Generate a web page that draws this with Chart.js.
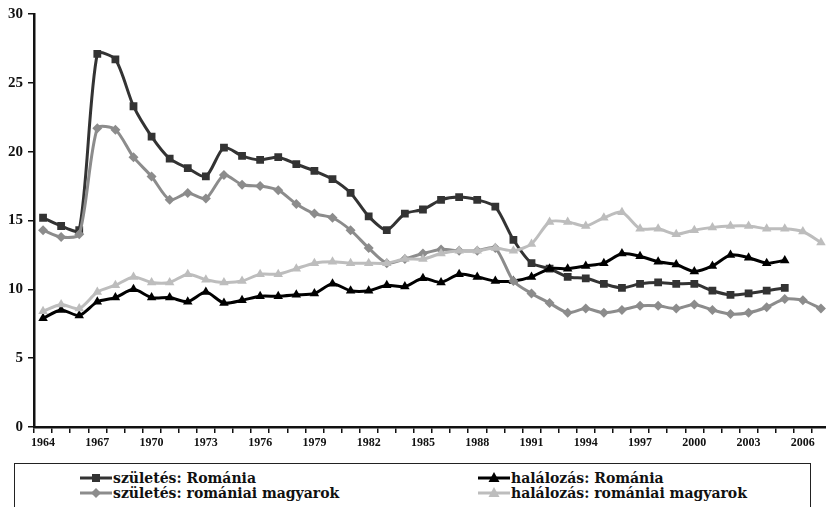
<!DOCTYPE html>
<html>
<head>
<meta charset="utf-8">
<script src="https://cdn.jsdelivr.net/npm/chart.js@4"></script>
<style>
  body { margin: 0; background: #fff; }
  #wrap { position: relative; width: 826px; height: 507px; overflow: hidden; }
  #chartBox { position: absolute; left: 0; top: 0; width: 830px; height: 462px; }
  #legend {
    position: absolute; left: 14px; top: 463px; width: 797px; height: 50px;
    border: 1.5px solid #222; box-sizing: border-box;
    font-family: "DejaVu Serif", serif; font-weight: bold; font-size: 14px; color: #111;
  }
  .item { position: absolute; height: 16px; line-height: 16px; white-space: nowrap; }
  .item svg { vertical-align: middle; margin-right: 1px; position: relative; top: -1px; }
</style>
</head>
<body>
<div id="wrap">
  <div id="chartBox"><canvas id="chart"></canvas></div>
  <div id="legend"></div>
</div>
<script>
// -------- data --------
const years = ['1964','1965','1966','1967','1968','1969','1970','1971','1972','1973',
    '1974','1975','1976','1977','1978','1979','1980','1981','1982','1983',
    '1984','1985','1986','1987','1988','1989','1990','1991','1992','1993',
    '1994','1995','1996','1997','1998','1999','2000','2001','2002','2003',
    '2004','2005','2006','2007'];

const birthRomania = [15.2,14.6,14.3,27.1,26.7,23.3,21.1,19.5,18.8,18.2,
    20.3,19.7,19.4,19.6,19.1,18.6,18.0,17.0,15.3,14.3,
    15.5,15.8,16.5,16.7,16.5,16.0,13.6,11.9,11.5,10.9,
    10.8,10.4,10.1,10.4,10.5,10.4,10.4,9.9,9.6,9.7,
    9.9,10.1,null,null];

const deathRomania = [7.9,8.5,8.1,9.1,9.4,10.0,9.4,9.4,9.1,9.8,
    9.0,9.2,9.5,9.5,9.6,9.7,10.4,9.9,9.9,10.3,
    10.2,10.8,10.5,11.1,10.9,10.6,10.6,10.9,11.5,11.5,
    11.7,11.9,12.6,12.4,12.0,11.8,11.3,11.7,12.5,12.3,
    11.9,12.1,null,null];

const birthHungarians = [14.3,13.8,14.0,21.7,21.6,19.6,18.2,16.5,17.0,16.6,
    18.3,17.6,17.5,17.2,16.2,15.5,15.2,14.3,13.0,11.9,
    12.2,12.6,12.9,12.8,12.8,13.0,10.6,9.7,9.0,8.3,
    8.6,8.3,8.5,8.8,8.8,8.6,8.9,8.5,8.2,8.3,
    8.7,9.3,9.2,8.6];

const deathHungarians = [8.4,8.9,8.6,9.8,10.3,10.9,10.5,10.5,11.1,10.7,
    10.5,10.6,11.1,11.1,11.5,11.9,12.0,11.9,11.9,11.9,
    12.2,12.2,12.6,12.8,12.8,13.0,12.8,13.3,14.9,14.9,
    14.6,15.2,15.6,14.4,14.4,14.0,14.3,14.5,14.6,14.6,
    14.4,14.4,14.2,13.4];

const yTicks = [0, 5, 10, 15, 20, 25, 30];

// -------- chart --------
const serif = '"Liberation Serif", serif';

const datasets = [
    { label: 'születés: Románia', data: birthRomania, color: '#333333', style: 'rect', radius: 5.5, order: 4 },
    { label: 'halálozás: Románia', data: deathRomania, color: '#000000', style: 'triangle', radius: 5.5, order: 3 },
    { label: 'születés: romániai magyarok', data: birthHungarians, color: '#8c8c8c', style: 'rectRot', radius: 5, order: 2 },
    { label: 'halálozás: romániai magyarok', data: deathHungarians, color: '#bdbdbd', style: 'triangle', radius: 5.5, order: 1 }
];

const ctx = document.getElementById('chart').getContext('2d');

new Chart(ctx, {
    type: 'line',
    data: {
        labels: years,
        datasets: datasets.map(function(d){
            return {
                label: d.label,
                data: d.data,
                borderColor: d.color,
                backgroundColor: d.color,
                pointBackgroundColor: d.color,
                pointBorderColor: d.color,
                pointStyle: d.style,
                pointRadius: d.radius,
                pointBorderWidth: 0,
                borderWidth: 3,
                tension: 0.25,
                order: d.order,
                spanGaps: false
            };
        })
    },
    options: {
        responsive: true,
        maintainAspectRatio: false,
        animation: false,
        layout: { autoPadding: false, padding: { top: 13, right: 0, left: 0, bottom: 0 } },
        plugins: {
            legend: { display: false },
            tooltip: { enabled: false }
        },
        scales: {
            x: {
                offset: true,
                grid: {
                    offset: true,
                    drawOnChartArea: false,
                    drawTicks: true,
                    tickLength: 6,
                    color: '#111',
                    lineWidth: 1.5
                },
                border: { display: true, color: '#111', width: 2.5 },
                ticks: {
                    autoSkip: false,
                    maxRotation: 0,
                    padding: 3,
                    color: '#111',
                    font: { family: serif, size: 12, weight: 'bold' },
                    callback: function(value, index){
                        return index % 3 === 0 ? years[index] : '';
                    }
                },
                afterFit: function(scale){
                    scale.height = 35;
                    scale.paddingLeft = 0;
                    scale.paddingRight = 0;
                }
            },
            y: {
                min: 0,
                max: 30,
                afterBuildTicks: function(scale){
                    scale.ticks = yTicks.map(function(v){ return { value: v }; });
                },
                grid: {
                    drawOnChartArea: false,
                    drawTicks: true,
                    tickLength: 6,
                    color: '#111',
                    lineWidth: 1.5
                },
                border: { display: true, color: '#111', width: 2.5 },
                ticks: {
                    padding: 5,
                    color: '#111',
                    font: { family: serif, size: 15, weight: 'bold' }
                },
                afterFit: function(scale){ scale.width = 34; }
            }
        }
    }
});

// -------- legend --------
function markerSvg(d){
    let c = d.color;
    let shape = '';
    if(d.style === 'rect'){
        shape = '<rect x="12" y="4" width="8" height="8" fill="' + c + '"/>';
    } else if(d.style === 'rectRot'){
        shape = '<polygon points="16,3 21,8 16,13 11,8" fill="' + c + '"/>';
    } else {
        shape = '<polygon points="16,2 21.5,12 10.5,12" fill="' + c + '"/>';
    }
    return '<svg width="32" height="16" viewBox="0 0 32 16">' +
        '<line x1="0" y1="8" x2="32" y2="8" stroke="' + c + '" stroke-width="3"/>' + shape + '</svg>';
}

const legendPos = [[65, 6], [463, 6], [65, 21], [463, 21]];
const legend = document.getElementById('legend');

for(let i=0; i<datasets.length; i++){
    let item = document.createElement('div');
    item.className = 'item';
    item.style.left = legendPos[i][0] + 'px';
    item.style.top = legendPos[i][1] + 'px';
    item.innerHTML = markerSvg(datasets[i]) + '<span>' + datasets[i].label + '</span>';
    legend.appendChild(item);
}
</script>
</body>
</html>
